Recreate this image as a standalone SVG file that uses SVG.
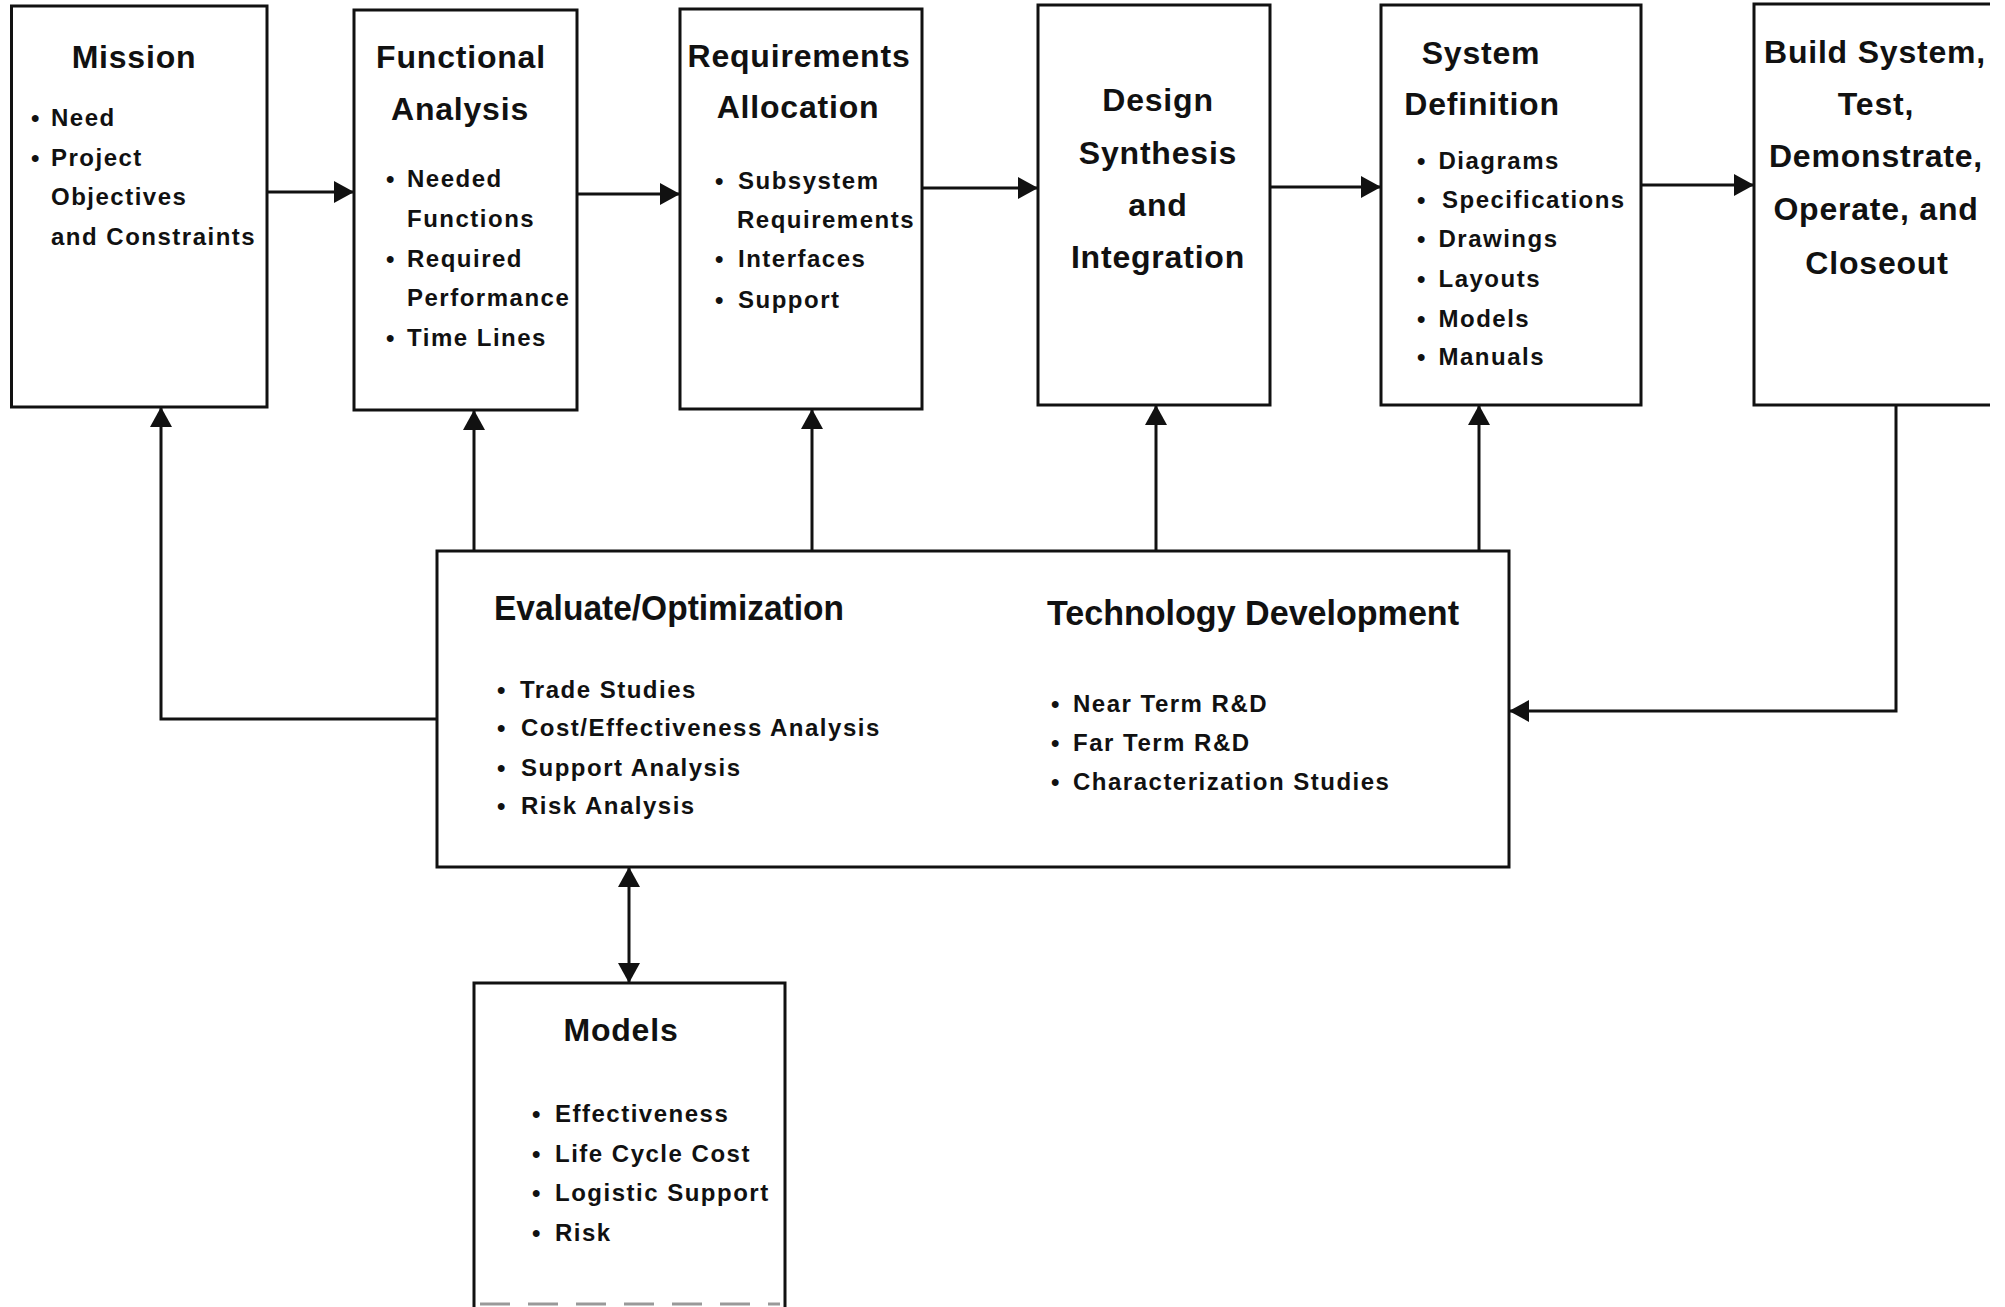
<svg xmlns="http://www.w3.org/2000/svg" width="2005" height="1307" viewBox="0 0 2005 1307">
<style>
.box{fill:#fff;stroke:#111;stroke-width:3}
.ln{fill:none;stroke:#111;stroke-width:3}
text{font-family:"Liberation Sans",Arial,sans-serif;font-weight:bold;fill:#111}
.t{font-size:32px;letter-spacing:0.8px;text-anchor:middle}
.h{font-size:35px}
.b{font-size:24px;letter-spacing:1.5px}
.d{font-size:24px}
</style>
<defs>
<marker id="ah" viewBox="0 0 20 22" refX="20" refY="11" markerWidth="20" markerHeight="22" markerUnits="userSpaceOnUse" orient="auto-start-reverse">
<path d="M0,0 L20,11 L0,22 Z" fill="#111"/>
</marker>
</defs>
<rect width="2005" height="1307" fill="#fff"/>

<g id="connectors">
<line class="ln" x1="267" y1="192" x2="354" y2="192" marker-end="url(#ah)"/>
<line class="ln" x1="577" y1="194" x2="680" y2="194" marker-end="url(#ah)"/>
<line class="ln" x1="922" y1="188" x2="1038" y2="188" marker-end="url(#ah)"/>
<line class="ln" x1="1270" y1="187" x2="1381" y2="187" marker-end="url(#ah)"/>
<line class="ln" x1="1641" y1="185" x2="1754" y2="185" marker-end="url(#ah)"/>
<path class="ln" d="M437,719 H161 V407" marker-end="url(#ah)"/>
<line class="ln" x1="474" y1="551" x2="474" y2="410" marker-end="url(#ah)"/>
<line class="ln" x1="812" y1="551" x2="812" y2="409" marker-end="url(#ah)"/>
<line class="ln" x1="1156" y1="551" x2="1156" y2="405" marker-end="url(#ah)"/>
<line class="ln" x1="1479" y1="551" x2="1479" y2="405" marker-end="url(#ah)"/>
<path class="ln" d="M1896,405 V711 H1509" marker-end="url(#ah)"/>
<line class="ln" x1="629" y1="867" x2="629" y2="983" marker-start="url(#ah)" marker-end="url(#ah)"/>
</g>

<g id="mission">
<rect class="box" x="11.5" y="6" width="255.5" height="401"/>
<text class="t" x="134" y="68">Mission</text>
<text class="d" x="31" y="126">•</text><text class="b" x="51" y="126">Need</text>
<text class="d" x="31" y="165.5">•</text><text class="b" x="51" y="165.5">Project</text>
<text class="b" x="51" y="205">Objectives</text>
<text class="b" x="51" y="245">and Constraints</text>
</g>

<g id="functional-analysis">
<rect class="box" x="354" y="10" width="223" height="400"/>
<text class="t" x="461" y="68">Functional</text>
<text class="t" x="460" y="120">Analysis</text>
<text class="d" x="386" y="187">•</text><text class="b" x="407" y="187">Needed</text>
<text class="b" x="407" y="227">Functions</text>
<text class="d" x="386" y="266.5">•</text><text class="b" x="407" y="266.5">Required</text>
<text class="b" x="407" y="306">Performance</text>
<text class="d" x="386" y="346">•</text><text class="b" x="407" y="346">Time Lines</text>
</g>

<g id="requirements-allocation">
<rect class="box" x="680" y="9" width="242" height="400"/>
<text class="t" x="799" y="67">Requirements</text>
<text class="t" x="798" y="118">Allocation</text>
<text class="d" x="715" y="188.5">•</text><text class="b" x="738" y="188.5">Subsystem</text>
<text class="b" x="737" y="228">Requirements</text>
<text class="d" x="715" y="266.5">•</text><text class="b" x="738" y="266.5">Interfaces</text>
<text class="d" x="715" y="307.5">•</text><text class="b" x="738" y="307.5">Support</text>
</g>

<g id="design-synthesis">
<rect class="box" x="1038" y="5" width="232" height="400"/>
<text class="t" x="1158" y="111">Design</text>
<text class="t" x="1158" y="164">Synthesis</text>
<text class="t" x="1158" y="216">and</text>
<text class="t" x="1158" y="268">Integration</text>
</g>

<g id="system-definition">
<rect class="box" x="1381" y="5" width="260" height="400"/>
<text class="t" x="1481" y="64">System</text>
<text class="t" x="1482" y="115">Definition</text>
<text class="d" x="1417" y="169">•</text><text class="b" x="1438.5" y="169">Diagrams</text>
<text class="d" x="1417" y="208">•</text><text class="b" x="1442" y="208">Specifications</text>
<text class="d" x="1417" y="247">•</text><text class="b" x="1438.5" y="247">Drawings</text>
<text class="d" x="1417" y="287">•</text><text class="b" x="1438.5" y="287">Layouts</text>
<text class="d" x="1417" y="326.5">•</text><text class="b" x="1438.5" y="326.5">Models</text>
<text class="d" x="1417" y="365">•</text><text class="b" x="1438.5" y="365">Manuals</text>
</g>

<g id="build-system">
<path d="M1990,4 H1754 V405 H1990" fill="#fff" stroke="#111" stroke-width="3"/>
<text class="t" x="1875" y="63">Build System,</text>
<text class="t" x="1876" y="115">Test,</text>
<text class="t" x="1876" y="167">Demonstrate,</text>
<text class="t" x="1876" y="220">Operate, and</text>
<text class="t" x="1877" y="274">Closeout</text>
</g>

<g id="evaluate">
<rect class="box" x="437" y="551" width="1072" height="316"/>
<text class="h" x="494" y="620" textLength="350" lengthAdjust="spacingAndGlyphs">Evaluate/Optimization</text>
<text class="d" x="497" y="697.5">•</text><text class="b" x="520" y="697.5">Trade Studies</text>
<text class="d" x="497" y="736">•</text><text class="b" x="521" y="736">Cost/Effectiveness Analysis</text>
<text class="d" x="497" y="775.5">•</text><text class="b" x="521" y="775.5">Support Analysis</text>
<text class="d" x="497" y="814">•</text><text class="b" x="521" y="814">Risk Analysis</text>
<text class="h" x="1047" y="625" textLength="412" lengthAdjust="spacingAndGlyphs">Technology Development</text>
<text class="d" x="1051" y="711.5">•</text><text class="b" x="1073" y="711.5">Near Term R&amp;D</text>
<text class="d" x="1051" y="751">•</text><text class="b" x="1073" y="751">Far Term R&amp;D</text>
<text class="d" x="1051" y="789.5">•</text><text class="b" x="1073" y="789.5">Characterization Studies</text>
</g>

<g id="models">
<path d="M474,1307 V983 H785 V1307" fill="#fff" stroke="#111" stroke-width="3"/>
<line x1="480" y1="1304" x2="780" y2="1304" stroke="#999" stroke-width="3" stroke-dasharray="30,18"/>
<text class="t" x="621" y="1041">Models</text>
<text class="d" x="532" y="1122">•</text><text class="b" x="555" y="1122">Effectiveness</text>
<text class="d" x="532" y="1161.5">•</text><text class="b" x="555" y="1161.5">Life Cycle Cost</text>
<text class="d" x="532" y="1201">•</text><text class="b" x="555" y="1201">Logistic Support</text>
<text class="d" x="532" y="1241">•</text><text class="b" x="555" y="1241">Risk</text>
</g>
</svg>
